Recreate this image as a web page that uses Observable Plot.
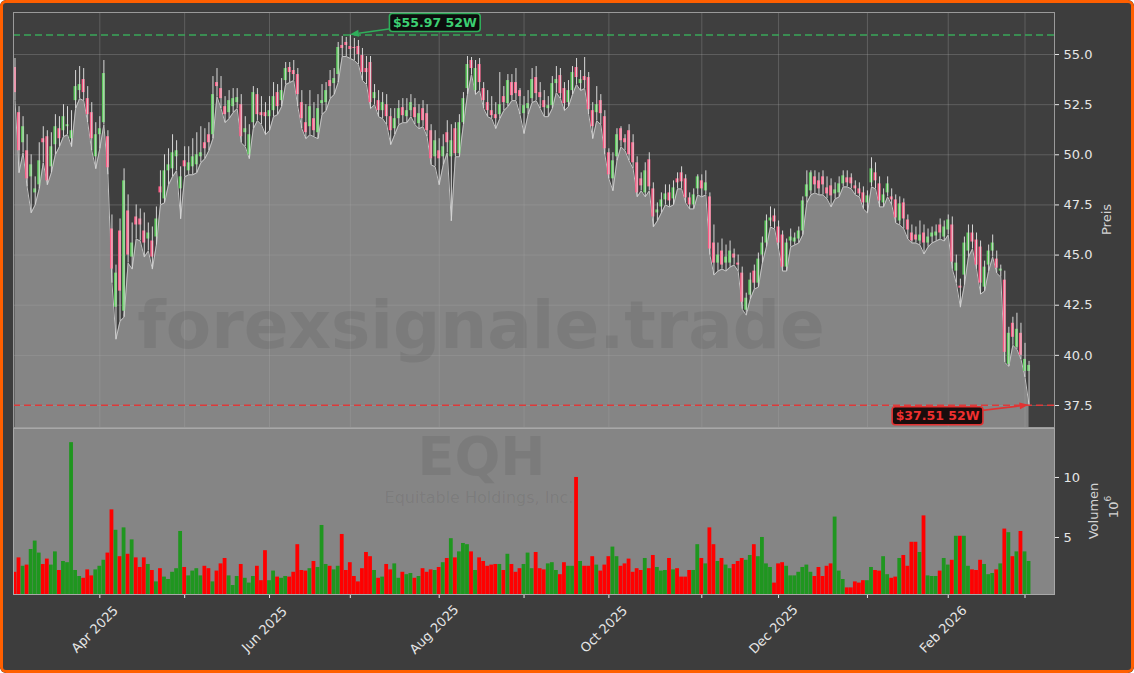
<!DOCTYPE html>
<html><head><meta charset="utf-8">
<script src="https://cdn.jsdelivr.net/npm/d3@7"></script>
<script src="https://cdn.jsdelivr.net/npm/@observablehq/plot@0.6"></script>
<style>
html,body{margin:0;padding:0;background:#ffffff;}
#fig{position:relative;width:1134px;height:673px;background:#3d3d3d;overflow:hidden;border-radius:6px;font-family:"DejaVu Sans",sans-serif;}
#fig svg{position:absolute;left:0;overflow:visible;}
#frame{position:absolute;left:0;top:0;width:1134px;height:673px;box-sizing:border-box;border:3px solid #ff5f00;border-radius:6px;pointer-events:none;z-index:10;}
</style></head><body>
<div id="fig"><div id="frame"></div></div>
<script>
// ---- data ----
const open = [
54.35,52.1,50.6,50.2,48.9,48.1,48.5,50.8,50.9,49.4,
50.5,51.3,51.2,51.4,50.8,52.7,53.2,53.75,52.8,52.1,
49.9,51.0,51.6,50.9,46.3,42.4,46.2,42.2,47.2,44.9,
46.9,46.8,46.2,45.8,45.7,45.9,48.4,47.8,49.2,49.3,
49.9,48.3,49.7,49.2,49.4,49.5,49.9,50.6,51.0,51.0,
53.6,53.3,52.4,52.1,52.4,52.6,52.5,51.1,50.0,51.6,
53.0,52.1,52.1,51.9,52.2,53.1,52.7,53.7,54.35,54.2,
54.0,52.6,51.6,51.4,51.8,51.1,52.55,52.6,53.7,53.55,
54.0,55.45,55.6,55.4,55.35,55.4,54.95,54.3,54.6,52.8,
52.7,52.2,52.5,51.9,51.3,51.8,52.35,51.9,52.2,52.35,
51.55,52.3,52.05,51.2,49.9,50.2,49.9,51.1,49.9,51.3,
50.05,51.6,53.3,54.7,53.2,54.5,53.3,52.6,52.2,52.0,
52.0,52.9,52.55,53.6,53.6,53.2,52.05,52.3,52.8,53.85,
53.1,52.7,52.3,52.45,53.55,53.95,53.3,52.6,53.2,54.35,
53.55,53.9,53.85,52.2,52.1,52.7,51.9,50.1,48.8,49.9,
51.3,50.8,51.2,50.6,49.6,48.8,48.1,49.75,48.3,47.1,
47.4,47.75,48.1,47.8,48.8,49.1,48.8,47.85,47.5,48.3,
48.7,48.2,47.9,45.6,44.6,45.2,44.6,44.6,45.05,44.6,
44.1,42.25,43.0,44.2,43.6,45.0,45.6,46.7,46.95,46.4,
46.0,44.4,45.7,45.65,45.8,46.2,47.9,48.2,48.9,48.7,
48.9,48.35,48.45,48.05,48.1,48.55,48.85,48.85,48.45,48.3,
48.1,47.6,48.6,49.1,48.55,47.6,48.1,47.9,47.75,46.7,
47.6,46.75,46.1,46.0,45.7,46.1,45.6,45.9,45.95,46.5,
45.9,46.25,46.5,44.2,43.45,44.0,45.2,46.1,45.75,45.4,
43.4,44.5,45.2,44.8,44.2,43.75,39.55,41.6,40.4,41.1,
39.2,39.2];
const high = [
54.8,52.4,51.9,51.0,50.0,48.9,50.6,51.4,51.2,51.1,
52.0,51.9,52.5,52.4,52.2,54.2,54.4,54.3,53.4,52.6,
51.6,51.9,54.7,51.2,47.0,44.5,46.8,49.3,48.0,46.6,
47.5,47.3,47.1,46.6,46.4,47.4,49.2,50.0,50.3,51.0,
50.7,49.4,50.4,50.4,50.8,51.1,51.4,51.3,51.6,53.9,
54.3,53.9,52.9,53.2,53.3,53.3,53.0,51.9,51.5,53.4,
53.3,52.9,52.6,52.9,53.6,53.5,53.8,54.6,54.6,54.7,
54.3,53.2,52.5,53.2,52.6,53.0,53.5,53.6,54.2,54.3,
55.6,55.9,55.85,55.97,55.8,55.7,55.3,54.9,54.9,53.5,
53.2,53.1,53.0,52.3,52.3,52.7,52.8,52.8,53.0,52.8,
52.5,52.7,52.5,51.5,51.2,50.8,51.0,51.7,51.5,51.6,
52.0,53.1,54.9,54.85,54.7,54.8,53.6,53.2,52.9,52.6,
54.1,53.4,54.0,54.0,54.3,53.3,52.9,53.2,54.3,54.4,
53.6,53.2,52.9,53.9,54.4,54.3,53.6,53.7,54.4,54.8,
54.2,54.85,54.1,52.6,53.4,53.0,52.2,50.3,50.1,51.3,
51.4,51.0,51.5,51.0,49.9,49.1,49.6,50.1,48.6,47.6,
48.1,48.5,48.5,48.7,49.1,49.4,49.0,48.1,48.3,49.0,
49.0,49.2,48.1,46.5,45.6,45.8,45.5,45.7,45.3,45.0,
44.4,43.1,44.1,44.5,45.1,45.9,47.0,47.4,47.3,46.7,
46.2,45.8,46.3,46.1,46.4,47.9,49.2,49.2,49.2,49.1,
49.2,48.9,48.8,48.6,48.9,49.2,49.2,49.05,48.7,48.6,
48.4,48.2,49.85,49.6,48.9,48.3,48.9,48.3,48.0,47.9,
47.8,47.0,46.5,46.4,46.7,46.5,46.3,46.4,46.5,46.8,
46.7,47.0,46.9,45.0,43.8,45.9,46.5,46.5,46.1,45.7,
44.7,45.5,46.0,45.2,44.5,44.2,41.4,41.9,42.1,41.6,
40.6,39.7];
const low = [
52.7,49.1,50.1,48.4,47.1,47.5,48.3,49.6,48.5,49.1,
50.0,50.4,50.9,51.0,50.4,52.3,52.8,52.7,51.6,50.2,
49.3,50.3,51.5,49.0,43.6,40.8,41.7,41.9,44.6,44.3,
45.8,45.7,44.9,45.2,44.3,45.5,47.5,47.6,48.5,48.9,
49.2,46.8,48.9,49.0,49.0,49.1,49.6,49.8,50.2,50.8,
52.9,52.3,51.6,51.8,52.1,52.3,50.6,50.4,49.8,51.3,
51.7,51.5,51.0,51.2,51.9,52.0,52.4,53.5,53.6,53.7,
52.4,51.3,50.8,51.0,50.9,50.8,52.0,52.2,52.8,53.0,
53.6,54.9,54.9,54.8,54.7,54.5,53.7,53.5,52.3,52.5,
51.9,51.8,51.5,50.5,51.0,51.5,51.6,51.6,51.9,51.5,
51.3,51.4,50.9,49.5,49.4,48.5,49.5,50.1,46.7,49.9,
49.9,51.5,53.0,54.0,53.0,53.2,52.3,51.9,51.8,51.3,
51.8,52.2,52.4,52.7,52.7,52.0,51.05,52.0,52.6,52.7,
52.3,51.9,51.9,52.3,53.1,52.8,52.2,52.4,53.0,53.5,
53.2,53.3,52.0,50.8,51.7,51.5,50.0,48.8,48.2,49.7,
50.4,50.2,49.7,49.3,47.9,48.2,47.9,48.2,46.4,46.7,
47.1,47.5,47.4,47.5,48.3,48.3,47.6,47.3,47.3,48.0,
47.9,48.0,45.0,44.0,44.2,44.3,44.2,44.4,44.5,44.2,
42.3,42.0,42.8,43.3,43.4,44.6,45.4,46.4,46.3,45.3,
44.2,44.2,45.4,45.5,45.6,46.0,47.6,48.0,48.1,48.0,
48.0,47.8,47.4,47.8,47.9,48.4,48.4,48.3,48.0,47.9,
47.3,47.1,48.4,48.3,47.4,47.4,47.9,47.5,46.6,46.5,
46.3,45.8,45.6,45.6,45.5,45.05,45.4,45.6,45.7,45.8,
45.7,46.0,44.3,43.6,42.4,43.5,44.9,45.3,44.3,43.05,
43.2,44.2,44.9,44.1,43.9,39.65,39.45,40.5,40.3,39.8,
38.9,37.51];
const close = [
53.1,50.2,51.4,48.8,49.5,48.3,49.7,50.6,48.7,50.4,
51.4,50.8,51.9,51.5,51.2,53.4,53.5,53.1,52.0,50.8,
51.0,51.3,54.05,49.35,44.3,44.1,43.2,48.7,45.0,45.6,
46.5,46.5,45.6,46.1,44.9,46.8,48.1,49.2,49.5,50.1,
50.2,48.9,49.4,49.6,49.9,50.0,50.1,50.3,50.6,53.0,
53.4,52.8,52.0,52.7,52.8,52.85,50.9,51.3,51.0,53.1,
52.0,51.95,51.9,52.2,52.9,52.4,53.2,54.3,54.1,54.0,
53.0,51.8,51.1,52.4,51.2,52.3,52.7,53.2,53.4,53.8,
55.35,55.3,55.45,55.25,55.3,55.0,54.1,54.1,52.6,53.1,
52.2,52.6,51.9,51.2,51.8,52.3,51.95,52.2,52.6,51.85,
52.05,51.7,51.2,49.8,50.7,49.8,50.4,50.6,50.7,50.05,
51.6,52.8,54.5,54.3,54.3,53.6,52.7,52.2,51.95,51.8,
52.5,52.6,53.7,52.95,53.05,52.9,52.45,52.55,53.75,53.05,
52.85,52.35,52.45,53.55,53.75,53.05,52.55,53.2,54.1,53.85,
53.75,53.7,52.25,51.4,52.5,52.05,50.3,49.0,49.7,51.0,
50.7,50.6,50.0,49.6,48.1,48.45,49.2,48.4,46.9,47.25,
47.75,48.05,47.7,48.35,48.6,48.65,47.85,47.5,48.0,48.9,
48.3,48.6,45.3,44.6,45.0,44.5,44.9,45.2,44.85,44.5,
42.65,42.85,43.75,43.6,44.8,45.6,46.7,46.85,46.65,45.6,
44.4,45.6,45.9,45.85,46.2,47.7,48.5,49.1,48.5,48.3,
48.5,48.05,47.95,48.25,48.55,48.95,48.6,48.55,48.3,48.05,
47.6,47.95,49.3,48.7,47.7,48.0,48.55,47.75,46.85,47.55,
46.8,46.25,45.7,45.75,46.0,45.6,45.9,46.1,46.15,46.1,
46.4,46.75,44.65,44.6,43.35,45.6,46.1,45.65,44.5,43.6,
44.4,45.2,45.6,44.35,44.3,40.15,41.1,40.9,41.3,40.0,
39.8,39.5];
// volume in millions
const volume = [
2.1,3.3,2.6,2.7,4.0,4.7,3.7,2.75,3.2,2.7,
3.8,2.25,3.0,2.9,12.9,2.25,1.75,1.6,2.3,1.8,
2.3,2.6,3.1,3.7,7.3,5.6,3.4,5.8,3.6,4.8,
3.3,2.5,3.3,2.75,2.25,1.3,2.4,1.7,1.5,2.1,
2.4,5.5,2.5,1.8,2.2,2.4,1.8,2.6,2.4,1.3,
2.2,2.8,3.25,1.8,1.0,1.75,2.75,1.6,1.2,1.75,
2.6,1.4,3.9,1.4,2.2,1.7,1.6,1.75,1.7,2.1,
4.4,2.25,2.2,2.4,3.0,2.5,6.0,2.75,2.6,2.3,
2.6,5.25,2.25,2.9,1.75,1.3,2.4,3.75,3.4,2.25,
1.6,1.7,2.75,2.3,2.8,1.6,2.1,1.9,2.0,1.6,
1.75,2.4,2.1,2.3,2.25,2.5,2.9,3.25,4.9,3.3,
3.8,4.5,4.4,3.8,2.25,3.3,3.0,2.6,2.7,2.75,
2.75,2.25,3.6,2.75,2.1,2.4,2.75,3.7,2.4,3.75,
2.4,2.3,2.8,2.9,2.25,1.9,2.9,2.6,2.6,10.0,
3.0,2.6,2.6,3.4,2.7,2.2,2.7,3.4,4.2,3.4,
2.6,2.8,3.2,2.1,2.4,2.25,3.25,2.4,3.5,2.5,
2.2,2.25,3.25,2.3,2.4,1.7,1.7,2.25,2.25,4.4,
3.25,2.8,5.8,4.4,3.0,3.25,2.7,2.4,2.75,3.0,
3.25,3.1,3.5,4.4,3.4,5.0,2.8,2.5,1.2,2.8,
2.9,2.6,1.8,1.8,2.1,2.5,2.7,2.1,1.75,2.5,
1.75,2.6,2.8,6.7,2.2,1.5,0.8,0.8,1.3,1.2,
1.4,1.4,2.5,2.25,2.2,3.4,1.9,1.6,1.7,3.25,
3.5,2.6,4.6,4.6,3.75,6.8,1.8,1.75,1.75,2.2,
3.25,2.7,3.1,5.1,5.1,5.1,2.6,2.3,2.25,3.1,
2.75,1.9,2.0,2.3,2.8,5.7,5.4,3.4,3.8,5.5,
3.8,3.0];
// month ticks (trading-day index of the first session of each month)
const tickIdx = [21,42,63,83,105,126,147,170,189,211,231,250];
const tickLabels = ["Apr 2025","","Jun 2025","","Aug 2025","","Oct 2025","","Dec 2025","","Feb 2026",""];
const priceTicks = [37.5,40,42.5,45,47.5,50,52.5,55];
const volTicks = [5,10];

// ---- build ----
const bars = close.map((c, i) => ({i, o: open[i], h: high[i], l: low[i], c, v: volume[i], up: c >= open[i]}));
const labelRows = tickIdx.map((i, k) => ({i, label: tickLabels[k]})).filter(d => d.label);
const iMax = d3.maxIndex(high), iMin = d3.minIndex(low);
const maxH = high[iMax], minL = low[iMin];

const W = 1134, ML = 13, MR = 80;
const xDomain = [-0.37, 257.3];
const baseStyle = {background: "transparent", color: "#e6e6e6", fontFamily: "DejaVu Sans", fontSize: "13px", overflow: "visible"};
const fig = document.getElementById("fig");

const price = Plot.plot({
  width: W, height: 428,
  marginLeft: ML, marginRight: MR, marginTop: 12, marginBottom: 1,
  style: baseStyle,
  x: {domain: xDomain, axis: null},
  y: {domain: [36.403, 57.094], axis: null},
  marks: [
    Plot.frame({fill: "#3f3f3f"}),
    Plot.areaY(bars, {x: "i", y: "l", fill: "#858585", clip: true}),
    Plot.gridY(priceTicks, {stroke: "#a8a8a8", strokeOpacity: 0.3}),
    Plot.gridX(tickIdx, {stroke: "#a8a8a8", strokeOpacity: 0.3}),
    Plot.lineY(bars, {x: "i", y: "l", stroke: "#c2c2c2", strokeWidth: 1}),
    Plot.rect(bars, {x1: d => d.i - 0.37, x2: d => d.i + 0.37, y1: "o", y2: "c", fill: d => d.up ? "#5ccb5c" : "#ff5c86"}),
    Plot.ruleX(bars, {x: "i", y1: "l", y2: "h", stroke: "#d8d8d8", strokeWidth: 1}),
    Plot.ruleY([maxH], {stroke: "#3aa85a", strokeWidth: 1.6, strokeDasharray: "7,4"}),
    Plot.ruleY([minL], {stroke: "#dd3a3a", strokeWidth: 1.6, strokeDasharray: "7,4"}),
    Plot.axisY(priceTicks, {anchor: "right", tickSize: 4, tickPadding: 5, tickFormat: d3.format(".1f"), fontSize: 13, color: "#e6e6e6", label: null}),
    Plot.frame({stroke: "#9a9a9a"})
  ]
});
price.style.top = "0px";
fig.appendChild(price);

const vol = Plot.plot({
  width: W, height: 245,
  marginLeft: ML, marginRight: MR, marginTop: 0, marginBottom: 79,
  style: baseStyle,
  x: {domain: xDomain, axis: null},
  y: {domain: [0.25, 14.08], axis: null},
  marks: [
    Plot.frame({fill: "#858585"}),
    Plot.rect(bars, {x1: d => d.i - 0.47, x2: d => d.i + 0.47, y1: 0, y2: "v", fill: d => d.up ? "#1f961f" : "#ff0000", clip: true}),
    Plot.axisY(volTicks, {anchor: "right", tickSize: 4, tickPadding: 5, fontSize: 13, color: "#e6e6e6", label: null}),
    Plot.axisX(tickIdx, {anchor: "bottom", tickSize: 4, tickFormat: () => "", color: "#e6e6e6", label: null}),
    Plot.text(labelRows, {x: "i", text: "label", frameAnchor: "bottom", dy: 38, dx: -2, rotate: -45, textAnchor: "middle", fill: "#e6e6e6", fontSize: 13}),
    Plot.frame({stroke: "#a8a8a8"})
  ]
});
vol.style.top = "428px";
fig.appendChild(vol);

// ---- annotations on the price chart, placed through Plot's scales ----
function scaleFn(plot, name, dom, rng) {
  const s = plot.scale && plot.scale(name);
  if (s && typeof s.apply === "function") return v => s.apply(v);
  return d3.scaleLinear(dom, rng);
}
const sx = scaleFn(price, "x", xDomain, [ML, W - MR]);
const sy = scaleFn(price, "y", [36.403, 57.094], [427, 12]);

function annotate(xv, yv, label, dx, dy, line, textCol, bg) {
  const px = sx(xv), py = sy(yv);
  const tx = px + dx, ty = py + dy;
  const g = d3.select(price).append("g");
  const ang = Math.atan2(py - ty, px - tx);
  const hl = 9, hw = 3.5;
  const bx = px - hl * Math.cos(ang), by = py - hl * Math.sin(ang);
  g.append("line").attr("x1", tx).attr("y1", ty).attr("x2", bx).attr("y2", by)
    .attr("stroke", line).attr("stroke-width", 1.6);
  const nx = -Math.sin(ang), ny = Math.cos(ang);
  g.append("polygon").attr("fill", line)
    .attr("points", `${px},${py} ${bx + nx * hw},${by + ny * hw} ${bx - nx * hw},${by - ny * hw}`);
  const box = g.append("rect");
  const t = g.append("text").attr("x", tx).attr("y", ty).attr("text-anchor", "middle")
    .attr("dominant-baseline", "central").attr("fill", textCol)
    .style("font", "bold 12.5px 'DejaVu Sans'").text(label);
  const w = t.node().getComputedTextLength() + 7, h = 18;
  box.attr("x", tx - w / 2).attr("y", ty - h / 2).attr("width", w).attr("height", h)
    .attr("rx", 3).attr("fill", bg).attr("stroke", line).attr("stroke-width", 1.6);
}
annotate(iMax, maxH, `$${maxH.toFixed(2)} 52W`, 85, -12, "#2fae5a", "#3ccf72", "#0d0d0d");
annotate(iMin, minL, `$${minL.toFixed(2)} 52W`, -91, 11, "#e23232", "#ef3030", "#1a0d0d");

// ---- axis titles and watermark ----
const ov = d3.select(fig).append("svg").attr("width", W).attr("height", 673).style("top", "0px")
  .style("pointer-events", "none").style("font-family", "'DejaVu Sans'");
ov.append("text").attr("transform", "translate(1106,219.5) rotate(-90)").attr("text-anchor", "middle")
  .attr("dominant-baseline", "central").attr("fill", "#d4d4d4").style("font-size", "13px").text("Preis");
ov.append("text").attr("transform", "translate(1093,511) rotate(-90)").attr("text-anchor", "middle")
  .attr("dominant-baseline", "central").attr("fill", "#d4d4d4").style("font-size", "13px").text("Volumen");
const e6 = ov.append("text").attr("transform", "translate(1113,507) rotate(-90)").attr("text-anchor", "middle")
  .attr("dominant-baseline", "central").attr("fill", "#d4d4d4").style("font-size", "13px");
e6.append("tspan").text("10");
e6.append("tspan").attr("dy", "-5").style("font-size", "9px").text("6");

const wm = ov.append("g").attr("fill", "#000").attr("fill-opacity", 0.075).attr("text-anchor", "middle");
wm.append("text").attr("x", 481).attr("y", 348).style("font", "bold 66px 'DejaVu Sans'").text("forexsignale.trade");
wm.append("text").attr("x", 481.5).attr("y", 475).style("font", "bold 54px 'DejaVu Sans'").text("EQH");
wm.append("text").attr("x", 479).attr("y", 503).style("font", "16px 'DejaVu Sans'").text("Equitable Holdings, Inc.");
</script></body></html>
